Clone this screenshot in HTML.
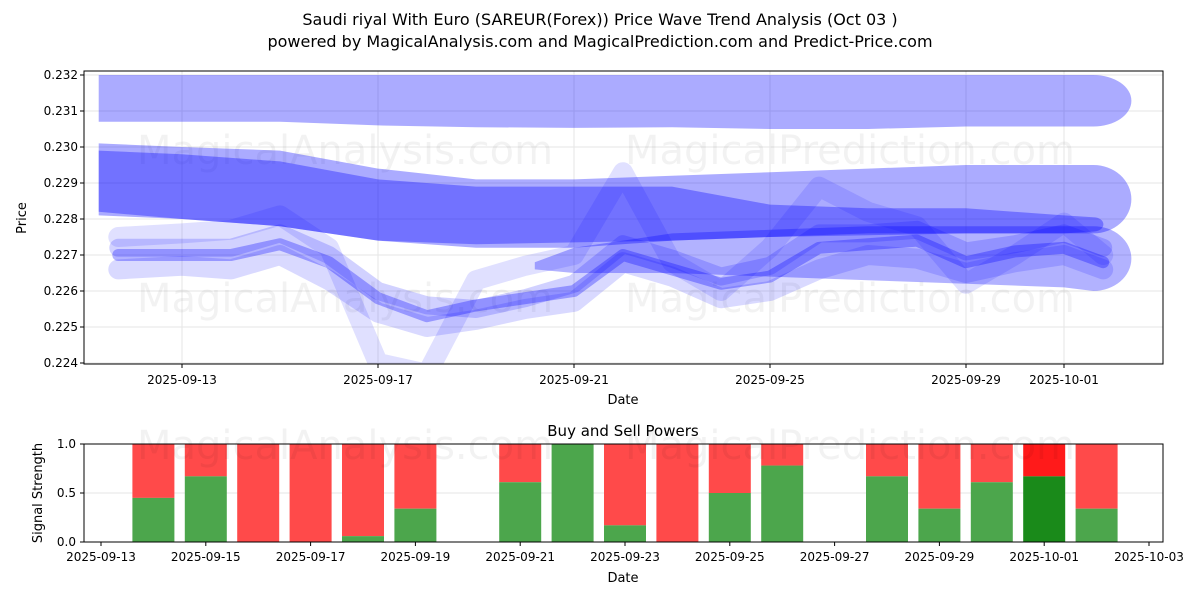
<!DOCTYPE html>
<html><head><meta charset="utf-8"><style>
body{margin:0;background:#fff;font-family:"DejaVu Sans","Liberation Sans",sans-serif;}
svg text{font-family:"DejaVu Sans","Liberation Sans",sans-serif;}
</style></head><body>
<svg id="s" width="1200" height="600" xmlns="http://www.w3.org/2000/svg">
<rect width="1200" height="600" fill="#fff"/>
<text x="600" y="25" text-anchor="middle" font-size="16">Saudi riyal With Euro (SAREUR(Forex)) Price Wave Trend Analysis (Oct 03 )</text>
<text x="600" y="47" text-anchor="middle" font-size="16">powered by MagicalAnalysis.com and MagicalPrediction.com and Predict-Price.com</text>
<g id="topchart"></g><g id="botchart"></g>
</svg>
<script>
// top chart data (day offsets from 2025-09-13)
const bandDays=[-1.7,0,2,4,6,8,10,12,14,16,18,18.6];
const upperTop=[0.2320,0.2320,0.2320,0.2320,0.2320,0.2320,0.2320,0.2320,0.2320,0.2320,0.2320,0.2320];
const upperBot=[0.2307,0.2307,0.2307,0.2306,0.23055,0.23053,0.23055,0.2305,0.2305,0.23057,0.23057,0.23057];
const midTop=[0.2301,0.2300,0.2299,0.2294,0.2291,0.2291,0.2292,0.2293,0.2294,0.2295,0.2295,0.2295];
const midBot=[0.2281,0.2280,0.2278,0.2274,0.2272,0.2272,0.2274,0.2275,0.2276,0.2276,0.2276,0.2276];
const darkTop=[0.2299,0.2298,0.2296,0.2291,0.2289,0.2289,0.2289,0.2284,0.2283,0.2283,0.2281,0.22805];
const darkBot=[0.2282,0.2280,0.2278,0.2274,0.2273,0.22735,0.2274,0.2275,0.22755,0.2276,0.2276,0.22765];
const lbDays=[7.2,8,10,12,14,16,18,18.6];
const lowBandTop=[0.2268,0.2272,0.2276,0.2277,0.2278,0.2278,0.2278,0.2278];
const lowBandBot=[0.2266,0.2265,0.2265,0.2264,0.2263,0.2262,0.2261,0.2260];
const lowDays=[-1.3,0,1,2,3,4,5,6,7,8,9,10,11,12,13,14,15,16,17,18,18.8];
const lowA=[0.2270,0.2270,0.2270,0.2273,0.2268,0.2258,0.2253,0.2256,0.2258,0.2260,0.2270,0.2266,0.2262,0.2264,0.2272,0.2273,0.2274,0.2268,0.2271,0.2272,0.2268];
const lowB=[0.2275,0.2276,0.2277,0.2281,0.2272,0.2240,0.2237,0.2263,0.2267,0.2270,0.2293,0.2268,0.2260,0.2272,0.2289,0.2282,0.2278,0.2262,0.2270,0.2279,0.2270];
const lowC=[0.2266,0.2267,0.2266,0.2270,0.2263,0.2254,0.2250,0.2252,0.2255,0.2257,0.2268,0.2264,0.2258,0.2260,0.2266,0.2270,0.2269,0.2265,0.2268,0.2270,0.2266];
const lowD=[0.2272,0.2272,0.2272,0.2276,0.2270,0.2260,0.2256,0.2255,0.2258,0.2262,0.2273,0.2269,0.2264,0.2267,0.2276,0.2276,0.2277,0.2271,0.2273,0.2276,0.2272];
const yTicks=[0.224,0.225,0.226,0.227,0.228,0.229,0.230,0.231,0.232];
const xTickDays=[0,4,8,12,16,18];
const xTickLabels=["2025-09-13","2025-09-17","2025-09-21","2025-09-25","2025-09-29","2025-10-01"];
// bottom chart data (day offsets from 2025-09-13)
const barDays=[1,2,3,4,5,6,8,9,10,11,12,13,15,16,17,18,19];
const buyVals=[0.45,0.67,0,0,0.06,0.34,0.61,1.0,0.17,0,0.5,0.78,0.67,0.34,0.61,0.67,0.34];
const bTickLabels=["2025-09-13","2025-09-15","2025-09-17","2025-09-19","2025-09-21","2025-09-23","2025-09-25","2025-09-27","2025-09-29","2025-10-01","2025-10-03"];
const NS="http://www.w3.org/2000/svg";
function mk(t,a,p){const e=document.createElementNS(NS,t);for(const k in a)e.setAttribute(k,a[k]);p.appendChild(e);return e;}
const topG=document.getElementById('topchart'),botG=document.getElementById('botchart');
const X=d=>182+49*d, Y=v=>363-(v-0.224)*36000;
yTicks.forEach(v=>{mk('line',{x1:84,x2:1163,y1:Y(v),y2:Y(v),stroke:'#e6e6e6'},topG);
 const t=mk('text',{x:78,y:Y(v)+4,'text-anchor':'end','font-size':12},topG);t.textContent=v.toFixed(3);
 
 
 mk('line',{x1:80,x2:84,y1:Y(v),y2:Y(v),stroke:'#000'},topG);});
xTickDays.forEach((d,i)=>{mk('line',{x1:X(d),x2:X(d),y1:71,y2:364,stroke:'#e6e6e6'},topG);
 mk('line',{x1:X(d),x2:X(d),y1:364,y2:368,stroke:'#000'},topG);
 const t=mk('text',{x:X(d),y:384,'text-anchor':'middle','font-size':12},topG);t.textContent=xTickLabels[i];
 
 });
[[345,150],[850,150],[345,298],[850,298]].forEach((p,i)=>{const t=mk('text',{x:p[0],y:p[1]+14,'text-anchor':'middle','font-size':40,fill:'#000','fill-opacity':0.05},topG);t.textContent=i%2?'MagicalPrediction.com':'MagicalAnalysis.com';
 
 });
const clip=mk('clipPath',{id:'cp'},topG);mk('rect',{x:84,y:71,width:1079,height:293},clip);
const g=mk('g',{'clip-path':'url(#cp)'},topG);
function B(days,tops,bots,op,name,capRx){
 let d='M'+X(days[0])+','+Y(tops[0]);
 for(let i=1;i<days.length;i++)d+=' L'+X(days[i])+','+Y(tops[i]);
 const n=days.length-1,ry=(Y(bots[n])-Y(tops[n]))/2;
 d+=' A'+capRx+','+ry+' 0 0 1 '+X(days[n])+','+Y(bots[n]);
 for(let i=n-1;i>=0;i--)d+=' L'+X(days[i])+','+Y(bots[i]);
 d+=' Z';
 const e=mk('path',{d:d,fill:'#0000ff','fill-opacity':op},g);
 
 }
function L(days,vals,w,op,name){const pts=days.map((d,i)=>X(d)+','+Y(vals[i])).join(' ');
 const e=mk('polyline',{points:pts,fill:'none',stroke:'#0000ff','stroke-width':w,'stroke-opacity':op,'stroke-linejoin':'round','stroke-linecap':'round'},g);
 
 }
B(bandDays,upperTop,upperBot,0.33,'upper-band',38);
B(bandDays,midTop,midBot,0.33,'middle-band',38);
B(bandDays,darkTop,darkBot,0.33,'middle-band-core',10);
B(lbDays,lowBandTop,lowBandBot,0.3,'lower-band',38);
L(lowDays,lowB,20,0.12,'wave-spike');
L(lowDays,lowC,20,0.15,'wave-low');
L(lowDays,lowD,18,0.18,'wave-high');
L(lowDays,lowA,12,0.3,'wave-main');
mk('rect',{x:84,y:71,width:1079,height:293,fill:'none',stroke:'#000'},topG);
let t=mk('text',{x:623,y:404,'text-anchor':'middle','font-size':13},topG);t.textContent='Date';
t=mk('text',{x:26,y:218,'text-anchor':'middle','font-size':13,transform:'rotate(-90 26 218)'},topG);t.textContent='Price';
// bottom
const BX=d=>101+52.4*d, BY=v=>542-v*98;
t=mk('text',{x:623,y:436,'text-anchor':'middle','font-size':15},botG);t.textContent='Buy and Sell Powers';
[0,0.5,1].forEach(v=>{mk('line',{x1:84,x2:1163,y1:BY(v),y2:BY(v),stroke:'#e6e6e6'},botG);
 mk('line',{x1:80,x2:84,y1:BY(v),y2:BY(v),stroke:'#000'},botG);
 const e=mk('text',{x:76,y:BY(v)+4,'text-anchor':'end','font-size':12},botG);e.textContent=v.toFixed(1);});
barDays.forEach((d,i)=>{const b=buyVals[i],dk=d===18;
 const r=mk('rect',{x:BX(d)-21,y:BY(1),width:42,height:98*(1-b),fill:dk?'#ff1a1a':'#ff4a4a'},botG);
 
 
 const gr=mk('rect',{x:BX(d)-21,y:BY(b),width:42,height:98*b,fill:dk?'#1a8a1a':'#4ca64c'},botG);
 
 });
bTickLabels.forEach((l,i)=>{const x=BX(i*2);mk('line',{x1:x,x2:x,y1:542,y2:546,stroke:'#000'},botG);
 const e=mk('text',{x:x,y:561,'text-anchor':'middle','font-size':12},botG);e.textContent=l;});
[[345,445],[850,445]].forEach((p,i)=>{const e=mk('text',{x:p[0],y:p[1]+14,'text-anchor':'middle','font-size':40,fill:'#000','fill-opacity':0.05},botG);e.textContent=i?'MagicalPrediction.com':'MagicalAnalysis.com';});
mk('rect',{x:84,y:444,width:1079,height:98,fill:'none',stroke:'#000'},botG);
t=mk('text',{x:623,y:582,'text-anchor':'middle','font-size':13},botG);t.textContent='Date';
t=mk('text',{x:42,y:493,'text-anchor':'middle','font-size':13,transform:'rotate(-90 42 493)'},botG);t.textContent='Signal Strength';
</script>
</body></html>
